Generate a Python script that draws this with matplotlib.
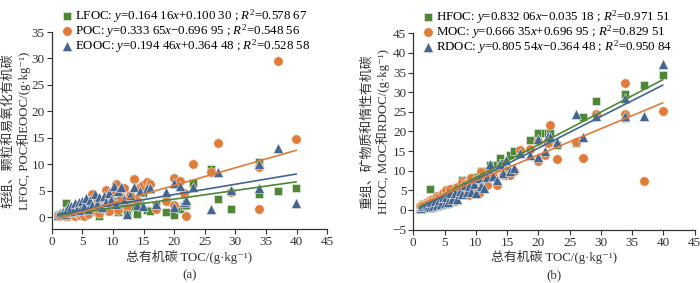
import matplotlib
matplotlib.use('Agg')
import matplotlib.pyplot as plt
import numpy as np

plt.rcParams['font.family'] = ['Liberation Serif', 'Noto Sans CJK SC', 'DejaVu Sans']
plt.rcParams['mathtext.fontset'] = 'custom'
plt.rcParams['mathtext.rm'] = 'Liberation Serif'
plt.rcParams['mathtext.it'] = 'Liberation Serif:italic'
plt.rcParams['font.size'] = 9

# total organic carbon of each sample (g/kg)
toc = [1.0, 1.3, 1.6, 1.9, 2.2, 2.4, 2.6, 2.9, 3.2, 3.5, 3.8, 4.1, 4.4, 4.7, 5.0, 5.3,
       5.6, 5.9, 6.2, 6.6, 7.0, 7.4, 7.8, 8.2, 8.6, 8.9, 9.3, 9.7, 10.1, 10.5, 10.9, 11.3,
       11.8, 12.3, 12.8, 13.4, 13.9, 14.4, 14.9, 15.5, 16.1, 17.0, 18.6, 19.9, 20.0, 21.0,
       21.6, 21.9, 23.0, 26.0, 27.2, 29.2, 33.9, 33.9, 36.9, 39.9]

# (a) light fraction / particulate / easily oxidisable
lfoc = [0.3, 0.5, 0.2, 0.6, 0.9, 2.7, 0.4, 1.1, 0.7, 1.4, 0.9, 1.6, 0.8, 1.9, 1.2, 0.6,
        2.1, 1.0, 1.8, 0.9, 2.4, 1.3, 0.2, 2.0, 1.5, 2.6, 1.1, 2.2, 1.7, 3.0, 1.0, 2.5,
        1.8, 0.8, 2.8, 1.9, 0.6, 2.4, 4.6, 1.4, 1.2, 2.2, 0.9, 1.0, 0.4, 1.5,
        2.0, 2.3, 6.4, 9.0, 3.5, 1.5, 10.5, 4.3, 5.0, 5.4]
poc = [0.1, 0.2, 0.1, 0.3, 0.2, 0.5, 0.1, 0.6, 0.3, 1.0, 0.2, 0.8, 1.5, 0.3, 1.2, 0.2,
       1.9, 0.6, 2.4, 4.4, 1.1, 2.9, 0.7, 1.7, 3.4, 5.2, 1.2, 4.6, 2.5, 6.2, 1.3, 3.7,
       5.4, 2.0, 4.2, 7.1, 3.0, 5.6, 6.0, 6.7, 6.2, 1.6, 3.0, 2.3, 7.4, 6.9,
       4.5, 0.2, 10.0, 8.6, 14.0, 4.8, 9.5, 1.5, 29.6, 14.8]
eooc = [0.4, 0.7, 0.5, 1.0, 0.6, 1.4, 1.8, 0.9, 2.1, 1.2, 2.6, 1.5, 2.9, 1.3, 3.1, 2.0,
        3.6, 1.6, 3.3, 2.2, 4.3, 2.5, 3.7, 1.8, 3.9, 2.8, 4.6, 3.2, 5.9, 2.4, 4.9, 5.6,
        3.5, 0.6, 4.1, 5.7, 2.3, 5.0, 2.1, 5.5, 5.4, 2.5, 4.7, 1.8, 6.5, 5.9,
        2.8, 3.2, 5.7, 1.6, 8.6, 5.2, 10.0, 5.4, 13.0, 2.6]

# (b) heavy fraction / mineral-associated / recalcitrant
hfoc = [0.7, 0.8, 1.4, 1.3, 1.3, 1.6, 5.3, 1.8, 2.5, 2.1, 2.9, 2.5, 3.6, 2.8, 3.8, 4.7,
        3.5, 4.9, 4.4, 5.7, 4.6, 6.1, 7.6, 6.2, 7.1, 6.3, 8.2, 7.5, 8.4, 7.5, 9.9, 8.8,
        10.0, 11.5, 10.0, 11.5, 13.3, 12.0, 10.3, 14.1, 14.9, 14.8, 17.7, 18.9, 19.6, 19.5,
        19.6, 19.6, 16.6, 17.0, 23.7, 27.7, 23.4, 29.6, 31.9, 34.5]
moc = [0.9, 1.1, 1.5, 1.6, 2.0, 1.9, 2.5, 2.3, 2.9, 2.5, 3.6, 3.3, 2.9, 4.4, 3.8, 5.1,
       3.7, 5.3, 3.8, 2.2, 5.9, 4.5, 7.1, 6.5, 5.2, 3.7, 8.1, 5.1, 7.6, 4.3, 9.6, 7.6,
       6.4, 10.3, 8.6, 6.3, 10.9, 8.8, 8.9, 8.8, 9.9, 15.4, 15.6, 17.6, 12.6, 14.1,
       17.1, 21.7, 13.0, 17.4, 13.2, 24.4, 24.4, 32.4, 7.3, 25.1]
rdoc = [0.6, 0.6, 1.1, 0.9, 1.6, 1.0, 0.8, 2.0, 1.1, 2.3, 1.2, 2.6, 1.5, 3.4, 1.9, 3.3,
        2.0, 4.3, 2.9, 4.4, 2.7, 4.9, 4.1, 6.4, 4.7, 6.1, 4.7, 6.5, 4.2, 8.1, 6.0, 5.7,
        8.3, 11.7, 8.7, 7.7, 11.6, 9.4, 12.8, 10.0, 10.7, 14.5, 13.9, 18.1, 13.5, 15.1,
        18.8, 18.7, 17.3, 24.4, 18.6, 24.0, 23.9, 28.5, 23.9, 37.3]

# fitted lines (slope, intercept) and legend texts
fits_a = [(0.16416, 0.10030), (0.33365, -0.69695), (0.19446, 0.36448)]
fits_b = [(0.83206, -0.03518), (0.66635, 0.69695), (0.80554, -0.36448)]
labels_a = [r'LFOC: $\mathit{y}$=0.164 16$\mathit{x}$+0.100 30 ; $\mathit{R}^2$=0.578 67',
            r'POC: $\mathit{y}$=0.333 65$\mathit{x}$−0.696 95 ; $\mathit{R}^2$=0.548 56',
            r'EOOC: $\mathit{y}$=0.194 46$\mathit{x}$+0.364 48 ; $\mathit{R}^2$=0.528 58']
labels_b = [r'HFOC: $\mathit{y}$=0.832 06$\mathit{x}$−0.035 18 ; $\mathit{R}^2$=0.971 51',
            r'MOC: $\mathit{y}$=0.666 35$\mathit{x}$+0.696 95 ; $\mathit{R}^2$=0.829 51',
            r'RDOC: $\mathit{y}$=0.805 54$\mathit{x}$−0.364 48 ; $\mathit{R}^2$=0.950 84']

colors = ['#4e8836', '#e07b39', '#43658f']
markers = ['s', 'o', '^']
sizes = [38, 46, 52]
txt = '#333333'


def panel(ax, series, fits, labels, ylabel, tag, leg_x, leg_y, lab_x):
    handles = []
    for k in range(3):
        h = ax.scatter(toc, series[k], s=sizes[k], marker=markers[k], c=colors[k],
                       edgecolors='#f0f0f0', linewidths=0.4, zorder=2 + k)
        handles.append(h)
    xs = np.array([min(toc), max(toc)])
    for k in [0, 2, 1]:
        ax.plot(xs, fits[k][0] * xs + fits[k][1], color=colors[k], lw=1.2, zorder=6)
    ax.spines['top'].set_visible(False)
    ax.spines['right'].set_visible(False)
    for s in ['left', 'bottom']:
        ax.spines[s].set_color(txt)
        ax.spines[s].set_linewidth(0.9)
    ax.tick_params(direction='out', length=3.5, width=0.8, colors=txt, labelsize=9.5, pad=1.5)
    ax.set_xlim(0, 45)
    ax.set_xticks(np.arange(0, 46, 5))
    ax.set_ylabel(ylabel, multialignment='center', linespacing=1.25,
                  fontsize=9.3, color=txt)
    bb = ax.get_position()
    # right edge of the two-line label block, given in figure pixels
    ax.yaxis.set_label_coords((lab_x / 700 - bb.x0) / bb.width, 0.5)
    xc = (bb.x0 + bb.x1) / 2
    fig.text(xc, 1 - 257 / 283, '总有机碳 TOC/(g·kg⁻¹)', ha='center', va='center',
             fontsize=9.3, color=txt)
    fig.text(xc, 1 - 275 / 283, tag, ha='center', va='center', fontsize=9.3, color=txt)
    fig.legend(handles, labels, loc='upper left',
               bbox_to_anchor=(leg_x / 700, 1 - leg_y / 283),
               frameon=False, fontsize=9.3, handlelength=0.8, handletextpad=0.2,
               labelspacing=-0.2, borderpad=0, borderaxespad=0, scatterpoints=1)


fig = plt.figure(figsize=(7, 2.83), dpi=100)
ax1 = fig.add_axes([51.7 / 700, 54 / 283, 275.6 / 700, 197 / 283])
ax2 = fig.add_axes([413.3 / 700, 53.4 / 283, 281.3 / 700, 196.3 / 283])

panel(ax1, [lfoc, poc, eooc], fits_a, labels_a,
      '轻组、颗粒和易氧化有机碳\nLFOC, POC和EOOC/(g·kg⁻¹)', '(a)', 62, 7, 31)
ax1.set_ylim(-2.27, 35)
ax1.set_yticks(np.arange(0, 36, 5))

panel(ax2, [hfoc, moc, rdoc], fits_b, labels_b,
      '重组、矿物质和惰性有机碳\nHFOC, MOC和RDOC/(g·kg⁻¹)', '(b)', 423, 8, 390)
ax2.set_ylim(-5, 45)
ax2.set_yticks(np.arange(-5, 46, 5))

fig.savefig('out.png', dpi=100)
